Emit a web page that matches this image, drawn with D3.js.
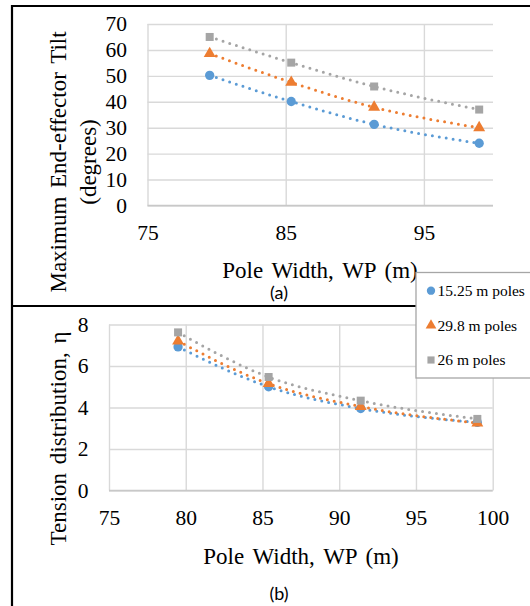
<!DOCTYPE html>
<html>
<head>
<meta charset="utf-8">
<script src="https://cdn.jsdelivr.net/npm/d3@7"></script>
<style>
  html, body { margin: 0; padding: 0; background: #fff; }
  svg { display: block; }
</style>
</head>
<body>
<svg id="fig" width="530" height="606"></svg>
<script>
const SERIF = "'Liberation Serif', 'Times New Roman', Times, serif";

// Pole widths (m) shared by both panels
const poleWidth = [79.5, 85.4, 91.4, 99.0];

// Series names and colours
const seriesNames = ["15.25 m poles", "29.8 m poles", "26 m poles"];
const seriesColors = ["#5B9BD5", "#ED7D31", "#A5A5A5"];
const seriesShapes = ["circle", "triangle", "square"];

// (a) maximum end-effector tilt, degrees
const tilt15 = [50.2, 40.1, 31.3, 24.0];
const tilt29 = [58.6, 47.5, 37.9, 30.0];
const tilt26 = [65.0, 55.1, 45.9, 37.0];

// (b) tension distribution, eta
const tension15 = [6.92, 5.00, 3.95, 3.28];
const tension29 = [7.20, 5.15, 4.05, 3.25];
const tension26 = [7.62, 5.47, 4.33, 3.45];

// Tick values
const tiltYTicks = [0, 10, 20, 30, 40, 50, 60, 70];
const tiltXTicks = [75, 85, 95];
const tensionYTicks = [0, 2, 4, 6, 8];
const tensionXTicks = [75, 80, 85, 90, 95, 100];

const svg = d3.select("#fig");
svg.append("rect").attr("width", 530).attr("height", 606).attr("fill", "#fff");

const symbolFor = {
  circle: d3.symbolCircle,
  triangle: d3.symbolTriangle,
  square: d3.symbolSquare
};
const symbolSize = { circle: 68, triangle: 62, square: 64 };

function styleTicks(s) {
  s.attr("font-family", SERIF).attr("font-size", 21.5);
  s.select(".domain").remove();
  s.selectAll("text")
    .attr("font-family", SERIF)
    .attr("font-size", 21.5)
    .attr("fill", "#000");
}

function drawPanel(cfg) {
  const g = svg.append("g");
  const x = d3.scaleLinear().domain([75, 100]).range([cfg.left, cfg.right]);
  const y = d3.scaleLinear().domain(cfg.yDomain).range([cfg.bottom, cfg.top]);

  // horizontal gridlines
  g.append("g")
    .attr("transform", `translate(${cfg.left},0)`)
    .call(d3.axisLeft(y).tickValues(cfg.yTicks).tickSize(-(cfg.right - cfg.left)).tickFormat(""))
    .call(s => s.select(".domain").remove())
    .call(s => s.selectAll("line").attr("stroke", "#D9D9D9").attr("stroke-width", 1.4));

  // vertical gridlines
  g.append("g")
    .attr("transform", `translate(0,${cfg.bottom})`)
    .call(d3.axisBottom(x).tickValues(cfg.xTicks).tickSize(-(cfg.bottom - cfg.top)).tickFormat(""))
    .call(s => s.select(".domain").remove())
    .call(s => s.selectAll("line").attr("stroke", "#D9D9D9").attr("stroke-width", 1.4));

  // horizontal axis line
  g.append("line")
    .attr("x1", cfg.left).attr("x2", cfg.right)
    .attr("y1", cfg.bottom).attr("y2", cfg.bottom)
    .attr("stroke", "#C8C8C8").attr("stroke-width", 1.5);

  // tick labels
  g.append("g")
    .attr("transform", `translate(${cfg.left},0)`)
    .call(d3.axisLeft(y).tickValues(cfg.yTicks).tickSize(0).tickPadding(cfg.yPad))
    .call(styleTicks);

  g.append("g")
    .attr("transform", `translate(0,${cfg.bottom})`)
    .call(d3.axisBottom(x).tickValues(cfg.xTicks).tickSize(0).tickPadding(cfg.xPad))
    .call(styleTicks);

  // dotted connecting curves
  const line = d3.line()
    .x((d, i) => x(poleWidth[i]))
    .y(d => y(d))
    .curve(d3.curveMonotoneX);

  cfg.series.forEach((vals, k) => {
    g.append("path")
      .attr("d", line(vals))
      .attr("fill", "none")
      .attr("stroke", seriesColors[k])
      .attr("stroke-width", 3)
      .attr("stroke-linecap", "round")
      .attr("stroke-dasharray", "0 7");
  });

  // markers
  cfg.series.forEach((vals, k) => {
    const shape = seriesShapes[k];
    g.append("g").selectAll("path")
      .data(vals)
      .join("path")
      .attr("transform", (d, i) => `translate(${x(poleWidth[i])},${y(d)})`)
      .attr("d", d3.symbol().type(symbolFor[shape]).size(symbolSize[shape]))
      .attr("fill", seriesColors[k]);
  });

  // axis titles
  g.append("text")
    .attr("font-family", SERIF).attr("fill", "#000")
    .attr("x", cfg.xTitleX).attr("y", cfg.xTitleY)
    .attr("text-anchor", "middle").attr("font-size", 23)
    .attr("word-spacing", 3)
    .text("Pole Width, WP (m)");

  cfg.yTitle.forEach((t, i) => {
    g.append("text")
      .attr("font-family", SERIF).attr("fill", "#000")
      .attr("transform", `translate(${cfg.yTitleX[i]},${cfg.yTitleY}) rotate(-90)`)
      .attr("text-anchor", "middle").attr("dy", "0.35em")
      .attr("font-size", 23).attr("word-spacing", 3)
      .text(t);
  });

  // panel label
  g.append("text")
    .attr("x", cfg.tagX).attr("y", cfg.tagY)
    .attr("text-anchor", "middle")
    .attr("font-family", "Lato, 'Open Sans', sans-serif")
    .attr("font-size", 18).attr("fill", "#000")
    .text(cfg.tag);
}

// (a)
drawPanel({
  left: 147.5, right: 493, top: 24, bottom: 205.5,
  yDomain: [0, 70], yTicks: tiltYTicks, xTicks: tiltXTicks,
  yPad: 20.5, xPad: 19,
  series: [tilt15, tilt29, tilt26],
  xTitleX: 320, xTitleY: 278,
  yTitle: ["Maximum End-effector Tilt", "(degrees)"],
  yTitleX: [57.5, 88], yTitleY: 162,
  tag: "(a)", tagX: 279, tagY: 299
});

// (b)
drawPanel({
  left: 109, right: 492.7, top: 324.5, bottom: 490.5,
  yDomain: [0, 8], yTicks: tensionYTicks, xTicks: tensionXTicks,
  yPad: 20.5, xPad: 19.5,
  series: [tension15, tension29, tension26],
  xTitleX: 301, xTitleY: 564,
  yTitle: ["Tension distribution, η"],
  yTitleX: [57.5], yTitleY: 438.5,
  tag: "(b)", tagX: 279, tagY: 600
});

// panel frame lines
const frame = svg.append("g").attr("stroke", "#000").attr("stroke-width", 2.2).attr("fill", "none");
frame.append("line").attr("x1", 11).attr("x2", 530).attr("y1", 6).attr("y2", 6);
frame.append("line").attr("x1", 12).attr("x2", 12).attr("y1", 5).attr("y2", 606);
frame.append("line").attr("x1", 11).attr("x2", 530).attr("y1", 306).attr("y2", 306);

// legend
const legend = svg.append("g");
legend.append("rect")
  .attr("x", 416).attr("y", 272.5).attr("width", 130).attr("height", 105.5)
  .attr("fill", "#fff").attr("stroke", "#A6A6A6").attr("stroke-width", 1.3);

const legendY = d3.scalePoint().domain(seriesNames).range([290.7, 360]);
seriesNames.forEach((name, k) => {
  const shape = seriesShapes[k];
  legend.append("path")
    .attr("transform", `translate(431,${legendY(name)})`)
    .attr("d", d3.symbol().type(symbolFor[shape]).size(symbolSize[shape] * 0.8))
    .attr("fill", seriesColors[k]);
  legend.append("text")
    .attr("font-family", SERIF).attr("fill", "#000")
    .attr("x", 437.5).attr("y", legendY(name)).attr("dy", "0.35em")
    .attr("font-size", 15.5)
    .text(name);
});
</script>
</body>
</html>
